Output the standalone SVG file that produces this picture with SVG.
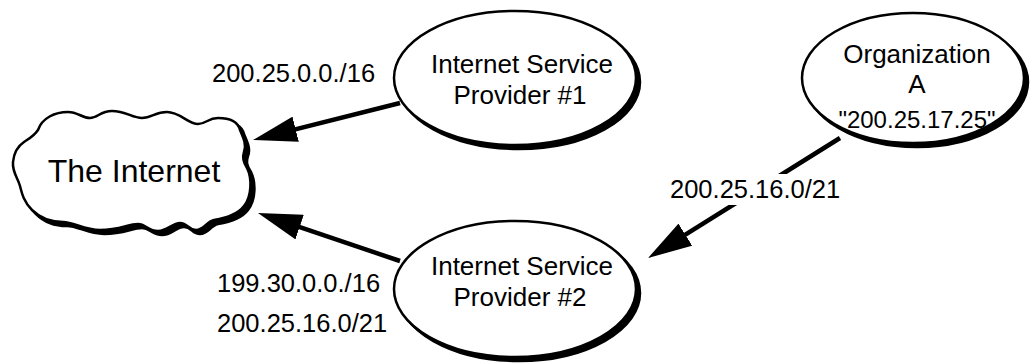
<svg xmlns="http://www.w3.org/2000/svg" width="1036" height="363" viewBox="0 0 1036 363">
<style>
text { font-family: "Liberation Sans", Arial, sans-serif; fill: #000; }
.lbl { font-size: 25.5px; }
.nt { font-size: 26px; text-anchor: middle; }
.shadow { fill: #000; stroke: #000; stroke-width: 2.5; }
.body { fill: #fff; stroke: #000; stroke-width: 2.5; }
.conn { fill: none; stroke: #000; stroke-width: 4.5; marker-end: url(#ah); }
</style>
<defs>
<marker id="ah" viewBox="0 0 44 26" refX="24" refY="13" markerWidth="44" markerHeight="26" markerUnits="userSpaceOnUse" orient="auto">
<path d="M0,0 L44,13 L0,26 Z" fill="#000"/>
</marker>
<path id="cloudShape" d="M38,130 C42,118 55,112 68,112 C78,112 82,118 90,118 C98,118 100,111 112,111 C126,111 132,118 142,118 C152,118 155,112 167,112 C180,112 188,124 198,124 C206,124 208,118 218,118 C230,118 238,122 240,130 C243,137 247,145 244,152 C242,158 243,162 247,168 C252,178 252,196 244,206 C238,214 226,218 214,220 C206,222 204,230 196,230 C188,230 188,223 180,223 C172,223 168,231 158,231 C148,231 146,224 138,224 C128,224 120,230 100,230 C84,230 74,222 63,222 C52,222 40,218 32,210 C24,202 22,194 20,186 C18,178 12,172 13,162 C14,152 18,146 24,142 C30,138 34,136 38,130 Z"/>
</defs>

<g id="connectors">
<path class="conn" d="M400,103 L272.4,135.1"/>
<path class="conn" d="M400,261 L276.9,219.4"/>
<path class="conn" d="M840,138 L665,247.4"/>
</g>

<g id="internet">
<use href="#cloudShape" class="shadow" transform="translate(4,4)"/>
<use href="#cloudShape" class="body"/>
<text x="134" y="182" style="font-size:32px;text-anchor:middle">The Internet</text>
</g>

<g id="isp1">
<ellipse class="shadow" cx="519" cy="82" rx="121" ry="67"/>
<ellipse class="body" cx="515" cy="78" rx="121" ry="67"/>
<text class="nt" x="522" y="73">Internet Service</text>
<text class="nt" x="520" y="104">Provider #1</text>
</g>

<g id="isp2">
<ellipse class="shadow" cx="519" cy="293" rx="121" ry="68"/>
<ellipse class="body" cx="515" cy="289" rx="121" ry="68"/>
<text class="nt" x="522" y="275">Internet Service</text>
<text class="nt" x="520" y="306">Provider #2</text>
</g>

<g id="orgA">
<ellipse class="shadow" cx="917" cy="82" rx="111" ry="65"/>
<ellipse class="body" cx="913" cy="78" rx="111" ry="65"/>
<text class="nt" x="917" y="63">Organization</text>
<text class="nt" x="917" y="93">A</text>
<text class="nt" x="917" y="128" style="font-size:24px">"200.25.17.25"</text>
</g>

<g id="labels">
<text class="lbl" x="212" y="82">200.25.0.0./16</text>
<text class="lbl" x="217" y="292">199.30.0.0./16</text>
<text class="lbl" x="217" y="332">200.25.16.0/21</text>
<rect x="666" y="174" width="182" height="31" fill="#fff"/>
<text class="lbl" x="670" y="198">200.25.16.0/21</text>
</g>
</svg>
